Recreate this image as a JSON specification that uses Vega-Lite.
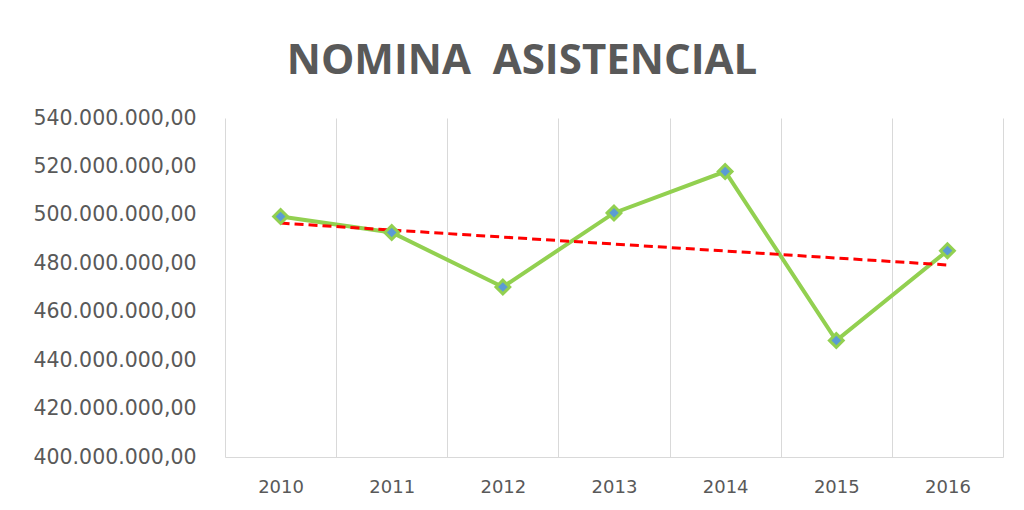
{
  "$schema": "https://vega.github.io/schema/vega-lite/v6.json",
  "width": 778,
  "height": 339,
  "autosize": {"type": "none"},
  "padding": {"left": 225, "top": 118, "right": 21, "bottom": 53},
  "background": "white",
  "title": {
    "text": "NOMINA\u00a0 ASISTENCIAL",
    "font": "Open Sans",
    "fontSize": 42,
    "fontWeight": "bold",
    "color": "#595959",
    "anchor": "middle",
    "frame": "group",
    "dx": -92,
    "offset": 25
  },
  "config": {
    "view": {"stroke": null},
    "axisX": {
      "domain": true,
      "domainColor": "#D9D9D9",
      "domainWidth": 1,
      "ticks": false,
      "grid": true,
      "gridColor": "#D9D9D9",
      "gridWidth": 1,
      "labelColor": "#595959",
      "labelFont": "DejaVu Sans",
      "labelFontSize": 18,
      "labelPadding": 21,
      "labelOverlap": false,
      "labelFlush": false,
      "title": null
    },
    "axisY": {
      "domain": false,
      "ticks": false,
      "grid": false,
      "labelColor": "#595959",
      "labelFont": "DejaVu Sans",
      "labelFontSize": 20.5,
      "labelPadding": 29,
      "title": null
    }
  },
  "datasets": {
    "nomina": [
      {"year": 2010, "value": 499300000},
      {"year": 2011, "value": 492700000},
      {"year": 2012, "value": 470200000},
      {"year": 2013, "value": 500800000},
      {"year": 2014, "value": 517900000},
      {"year": 2015, "value": 448100000},
      {"year": 2016, "value": 485200000}
    ],
    "trend": [
      {"year": 2010, "trend": 496600000},
      {"year": 2016, "trend": 479300000}
    ]
  },
  "layer": [
    {
      "data": {"name": "nomina"},
      "mark": {"type": "line", "color": "#92D050", "strokeWidth": 4},
      "encoding": {
        "x": {
          "field": "year",
          "type": "quantitative",
          "scale": {"domain": [2009.5, 2016.5], "nice": false, "zero": false},
          "axis": {
            "values": [2009.5, 2010, 2010.5, 2011, 2011.5, 2012, 2012.5, 2013, 2013.5, 2014, 2014.5, 2015, 2015.5, 2016, 2016.5],
            "labelExpr": "datum.value % 1 == 0 ? format(datum.value, 'd') : ''",
            "gridOpacity": {"condition": {"test": "datum.value % 1 != 0", "value": 1}, "value": 0}
          }
        },
        "y": {
          "field": "value",
          "type": "quantitative",
          "scale": {"domain": [400000000, 540000000], "nice": false, "zero": false},
          "axis": {
            "values": [400000000, 420000000, 440000000, 460000000, 480000000, 500000000, 520000000, 540000000],
            "labelExpr": "format(datum.value / 1000000, 'd') + '.000.000,00'"
          }
        }
      }
    },
    {
      "data": {"name": "trend"},
      "mark": {"type": "line", "color": "#FF0000", "strokeWidth": 3, "strokeDash": [9, 5]},
      "encoding": {
        "x": {"field": "year", "type": "quantitative"},
        "y": {"field": "trend", "type": "quantitative"}
      }
    },
    {
      "data": {"name": "nomina"},
      "mark": {"type": "point", "shape": "diamond", "filled": true, "fill": "#5B9BD5", "stroke": "#92D050", "strokeWidth": 3, "size": 190, "opacity": 1},
      "encoding": {
        "x": {"field": "year", "type": "quantitative"},
        "y": {"field": "value", "type": "quantitative"}
      }
    }
  ]
}
